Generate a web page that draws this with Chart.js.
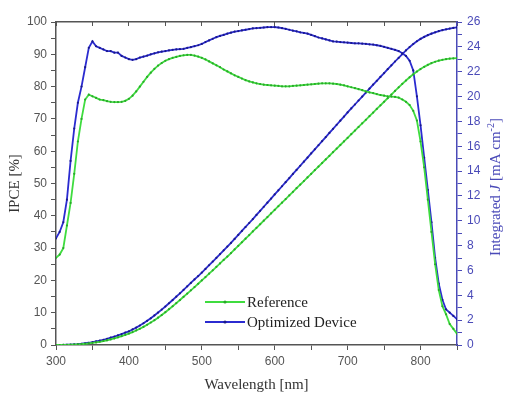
<!DOCTYPE html>
<html><head><meta charset="utf-8">
<script src="https://cdn.jsdelivr.net/npm/chart.js@4.4.0/dist/chart.umd.min.js"></script>
<style>html,body{margin:0;padding:0;background:#fff;overflow:hidden}</style>
</head><body>
<canvas id="c" width="506" height="394" style="width:506px;height:394px;display:block"></canvas>
<script>
const wavelengths = [
300,305,310,315,320,325,330,335,340,345,
350,355,360,365,370,375,380,385,390,395,
400,405,410,415,420,425,430,435,440,445,
450,455,460,465,470,475,480,485,490,495,
500,505,510,515,520,525,530,535,540,545,
550,555,560,565,570,575,580,585,590,595,
600,605,610,615,620,625,630,635,640,645,
650,655,660,665,670,675,680,685,690,695,
700,705,710,715,720,725,730,735,740,745,
750,755,760,765,770,775,780,785,790,795,
800,805,810,815,820,825,830,835,840,845,
850];

const ipceReference = [
27,28,30,37,44,53,63,70,76,77.5,
77,76.5,76,75.8,75.5,75.3,75.2,75.2,75.3,75.6,
76.2,77.2,78.5,80,81.5,83,84.3,85.5,86.5,87.3,
88,88.5,88.9,89.2,89.5,89.7,89.8,89.8,89.6,89.3,
88.9,88.4,87.8,87.2,86.6,86,85.3,84.7,84.1,83.5,
83,82.5,82,81.6,81.3,81,80.8,80.6,80.5,80.4,
80.3,80.2,80.1,80.1,80.1,80.2,80.3,80.4,80.5,80.6,
80.7,80.8,80.9,81,81,81,80.9,80.8,80.6,80.4,
80.1,79.8,79.5,79.2,78.9,78.5,78.2,78,77.7,77.4,
77.2,77,76.9,76.8,76.6,76,75.3,74.3,72.5,69.5,
63,55,45,35,25,17,12,9.5,6.5,5,
3.5];

const ipceOptimized = [
33,35,38,45,57,67,75,80,86,92,
94,92.5,92,91.5,91,91,90.5,90.5,89.5,89,
88.5,88.3,88.5,89,89.3,89.6,90,90.3,90.6,90.8,
91,91.2,91.4,91.5,91.6,91.7,92,92.2,92.5,92.8,
93.2,93.8,94.3,94.8,95.3,95.7,96,96.4,96.7,97,
97.2,97.4,97.6,97.8,98,98.1,98.2,98.3,98.4,98.4,
98.4,98.3,98.1,97.9,97.6,97.3,97.1,96.8,96.6,96.4,
96,95.6,95.2,94.9,94.6,94.3,94,93.9,93.8,93.7,
93.6,93.5,93.4,93.4,93.3,93.2,93.1,93,92.8,92.6,
92.3,92,91.7,91.4,91,90.3,89.5,88,85,77,
68,58,48,38,27,19,14,11,10,9,
8];

const jscReference = [
0,0,0.01,0.01,0.02,0.03,0.05,0.07,0.1,0.13,
0.17,0.21,0.26,0.32,0.38,0.45,0.53,0.62,0.71,0.81,
0.92,1.04,1.17,1.31,1.46,1.63,1.81,2.0,2.2,2.41,
2.64,2.88,3.12,3.37,3.62,3.88,4.14,4.4,4.66,4.93,
5.2,5.47,5.74,6.01,6.29,6.57,6.85,7.12,7.4,7.69,
7.98,8.27,8.56,8.85,9.14,9.43,9.72,10.01,10.3,10.59,
10.88,11.17,11.46,11.75,12.04,12.33,12.62,12.91,13.2,13.49,
13.78,14.07,14.36,14.65,14.94,15.23,15.52,15.81,16.1,16.39,
16.68,16.97,17.26,17.55,17.84,18.13,18.42,18.71,19.0,19.29,
19.58,19.87,20.16,20.45,20.74,21.02,21.29,21.55,21.79,22.01,
22.21,22.39,22.55,22.69,22.8,22.89,22.96,23.01,23.05,23.08,
23.1];

const jscOptimized = [
0,0,0.01,0.02,0.03,0.05,0.07,0.1,0.14,0.18,
0.23,0.29,0.35,0.42,0.5,0.59,0.68,0.78,0.88,0.99,
1.1,1.25,1.4,1.57,1.75,1.95,2.15,2.38,2.61,2.85,
3.1,3.36,3.62,3.89,4.16,4.44,4.72,5.0,5.28,5.55,
5.83,6.12,6.42,6.72,7.02,7.32,7.62,7.92,8.22,8.54,
8.86,9.18,9.5,9.82,10.14,10.47,10.8,11.13,11.46,11.79,
12.12,12.45,12.78,13.11,13.44,13.77,14.1,14.43,14.76,15.09,
15.42,15.75,16.08,16.41,16.74,17.07,17.4,17.73,18.06,18.39,
18.72,19.04,19.36,19.68,20.0,20.32,20.64,20.96,21.27,21.58,
21.89,22.2,22.51,22.82,23.12,23.42,23.71,23.98,24.23,24.45,
24.64,24.8,24.94,25.06,25.17,25.26,25.34,25.41,25.47,25.52,
25.56];

const seriesNames = ['Reference', 'Optimized Device'];
const xTitle = 'Wavelength [nm]';
const yLeftTitle = 'IPCE [%]';

const GREEN = '#3fdc3f', GREEN_DOT = '#2aa82a';
const BLUE = '#2b2bd0', BLUE_DOT = '#1a1a8a';
const AXIS = '#555555';
const RAXIS = '#4a4ab8';

function pts(ys){ return wavelengths.map((w,i)=>({x:w, y:ys[i]})); }
function ds(label, ys, axis, color, dot){
  return {label, data: pts(ys), yAxisID: axis, borderColor: color, backgroundColor: dot,
    pointBackgroundColor: dot, pointBorderColor: dot, pointRadius: 1.1, pointBorderWidth: 0,
    borderWidth: 1.8, tension: 0, fill: false};
}

const legendAndTitle = {
  id: 'legendAndTitle',
  afterDraw(chart){
    const ctx = chart.ctx;
    ctx.save();
    // legend
    const items = [[seriesNames[0], GREEN, GREEN_DOT, 302], [seriesNames[1], BLUE, BLUE_DOT, 322]];
    ctx.font = '15px "Liberation Serif", "Times New Roman", serif';
    ctx.textBaseline = 'middle';
    ctx.textAlign = 'left';
    for (const [t, c, d, y] of items){
      ctx.strokeStyle = c; ctx.lineWidth = 1.8;
      ctx.beginPath(); ctx.moveTo(205, y); ctx.lineTo(245, y); ctx.stroke();
      ctx.fillStyle = d; ctx.beginPath(); ctx.arc(225, y, 1.6, 0, Math.PI*2); ctx.fill();
      ctx.fillStyle = '#222'; ctx.fillText(t, 247, y + 1);
    }
    // right title, reading bottom-to-top
    ctx.translate(496, 187);
    ctx.rotate(-Math.PI/2);
    ctx.fillStyle = RAXIS;
    const parts = [['Integrated ', '15px "Liberation Serif", serif', 0], ['J', 'italic 15px "Liberation Serif", serif', 0],
                   [' [mA cm', '15px "Liberation Serif", serif', 0], ['-2', '10px "Liberation Serif", serif', -5], [']', '15px "Liberation Serif", serif', 0]];
    let total = 0;
    for (const p of parts){ ctx.font = p[1]; total += ctx.measureText(p[0]).width; }
    let x = -total/2;
    for (const p of parts){ ctx.font = p[1]; ctx.fillText(p[0], x, p[2]); x += ctx.measureText(p[0]).width; }
    ctx.restore();
  }
};

const tickFont = {family: '"Liberation Sans", Arial, sans-serif', size: 12};

new Chart(document.getElementById('c'), {
  type: 'line',
  data: { datasets: [
    ds(seriesNames[0], ipceReference, 'y', GREEN, GREEN_DOT),
    ds(seriesNames[0] + ' J', jscReference, 'y1', GREEN, GREEN_DOT),
    ds(seriesNames[1], ipceOptimized, 'y', BLUE, BLUE_DOT),
    ds(seriesNames[1] + ' J', jscOptimized, 'y1', BLUE, BLUE_DOT)
  ]},
  options: {
    responsive: false, animation: false, devicePixelRatio: 1,
    layout: {padding: 0},
    plugins: {legend: {display: false}, tooltip: {enabled: false}},
    scales: {
      x: {type: 'linear', position: 'bottom', min: 300, max: 850,
        afterFit(s){ s.height = 49; },
        border: {color: AXIS, width: 1.5},
        grid: {drawOnChartArea: false, drawTicks: true, tickLength: 5, color: AXIS},
        ticks: {stepSize: 50, autoSkip: false, maxRotation: 0, padding: 4, color: '#555', font: tickFont,
          callback: v => (v % 100 === 0 ? String(v) : '')},
        title: {display: true, text: xTitle, color: '#333', padding: {top: 0, bottom: 0},
          font: {family: '"Liberation Serif", serif', size: 15}}
      },
      xTop: {type: 'linear', position: 'top', min: 300, max: 850,
        afterFit(s){ s.height = 22; },
        border: {color: AXIS, width: 1.5},
        grid: {drawOnChartArea: false, drawTicks: true, tickLength: -4, color: AXIS},
        ticks: {display: false, stepSize: 50, autoSkip: false}
      },
      y: {position: 'left', min: 0, max: 100,
        afterFit(s){ s.width = 56; },
        border: {color: AXIS, width: 1.5},
        grid: {drawOnChartArea: false, drawTicks: true, tickLength: 5, color: AXIS},
        ticks: {stepSize: 5, autoSkip: false, padding: 4, color: '#555', font: tickFont,
          callback: v => (v % 10 === 0 ? String(v) : '')},
        title: {display: true, text: yLeftTitle, color: '#333', padding: {top: 6, bottom: 0},
          font: {family: '"Liberation Serif", serif', size: 15}}
      },
      y1: {position: 'right', min: 0, max: 26,
        afterFit(s){ s.width = 49; },
        border: {color: RAXIS, width: 1.5},
        grid: {drawOnChartArea: false, drawTicks: true, tickLength: 5, color: RAXIS},
        ticks: {stepSize: 1, autoSkip: false, padding: 5, color: RAXIS, font: tickFont,
          callback: v => (v % 2 === 0 ? String(v) : '')}
      }
    }
  },
  plugins: [legendAndTitle]
});
</script>
</body></html>
